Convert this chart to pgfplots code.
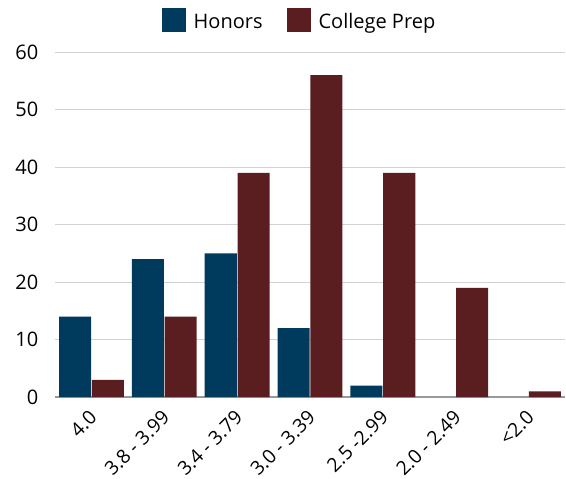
\documentclass[border=0pt]{standalone}
\usepackage{pgfplots}
\pgfplotsset{compat=1.18}
\usepackage{fontspec}
\setmainfont{Open Sans}
\definecolor{honors}{RGB}{0,58,92}
\definecolor{prep}{RGB}{90,30,33}
\definecolor{gridc}{RGB}{210,210,210}
\begin{document}
\begin{tikzpicture}[x=0.75pt,y=0.75pt]
\useasboundingbox (-55,-81) rectangle (511,397);
\begin{axis}[
  at={(0,0)}, anchor=south west,
  scale only axis, width=382.5pt, height=258.75pt,
  xmin=-0.5, xmax=6.5, ymin=0, ymax=60,
  ytick={0,10,...,60},
  xtick={0,...,6},
  xticklabels={4.0,3.8 - 3.99,3.4 - 3.79,3.0 - 3.39,2.5 -2.99,2.0 - 2.49,<2.0},
  x tick label style={rotate=45, anchor=north east, font=\fontsize{14.5}{16}\selectfont, inner sep=1pt, xshift=-7pt, yshift=-3.4pt},
  y tick label style={font=\fontsize{15}{16}\selectfont, xshift=-9pt},
  /pgf/number format/assume math mode=true,
  ymajorgrids, grid style={gridc, line width=0.6pt},
  axis x line*=bottom, axis y line*=left,
  y axis line style={draw=none},
  x axis line style={-, gray!80, line width=0.8pt},
  major tick length=0pt,
  ybar, bar width=0.44,
  legend style={at={(0.48,1.045)}, anchor=south, draw=none, legend columns=2,
    font=\fontsize{15}{17}\selectfont,
    /tikz/every odd column/.append style={column sep=4pt},
    /tikz/every even column/.append style={column sep=16pt}},
  legend image code/.code={\fill[#1] (0pt,-7pt) rectangle (18pt,11pt);},
]
\addplot[fill=honors, draw=none, bar shift=-0.225] coordinates {(0,14) (1,24) (2,25) (3,12) (4,2)};
\addplot[fill=prep, draw=none, bar shift=0.225] coordinates {(0,3) (1,14) (2,39) (3,56) (4,39) (5,19) (6,1)};
\legend{Honors, College Prep}
\end{axis}
\end{tikzpicture}
\end{document}
